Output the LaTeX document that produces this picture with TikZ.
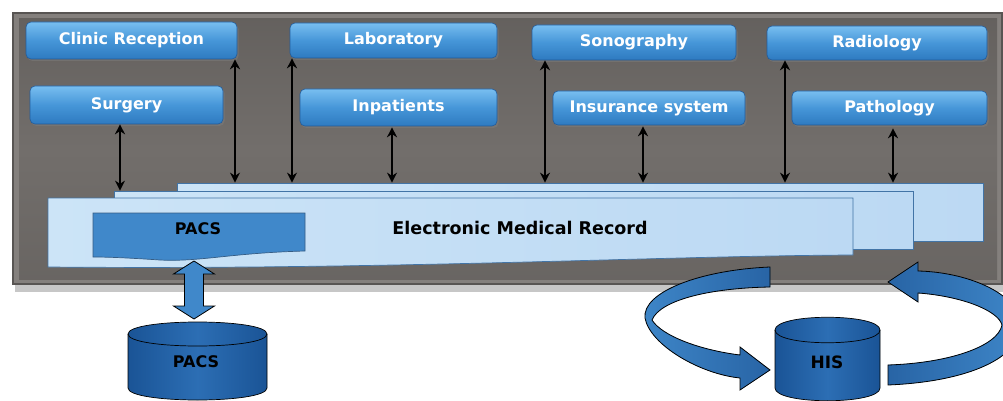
\documentclass[tikz,border=0pt]{standalone}
\usepackage{fontspec}
\setsansfont{DejaVu Sans}
\usetikzlibrary{shadows,arrows.meta}
\definecolor{rim}{RGB}{132,128,125}
\definecolor{rimdark}{RGB}{88,85,83}
\definecolor{panel}{RGB}{114,110,107}
\definecolor{boxtop}{RGB}{120,190,240}
\definecolor{boxmid}{RGB}{70,150,216}
\definecolor{boxbot}{RGB}{46,122,192}
\definecolor{boxedge}{RGB}{34,92,156}
\definecolor{sheet}{RGB}{204,228,247}
\definecolor{sheetedge}{RGB}{66,116,166}
\definecolor{sheetr}{RGB}{188,217,243}
\definecolor{pacsin}{RGB}{64,136,202}
\definecolor{cyldark}{RGB}{26,84,150}
\definecolor{cylmid}{RGB}{44,110,180}
\definecolor{ribbon}{RGB}{62,134,200}
\definecolor{ribbondark}{RGB}{40,100,165}
\begin{document}
\begin{tikzpicture}[x=1pt,y=-1pt,
  bluebox/.style={rounded corners=5pt, draw=boxedge, line width=0.6pt,
    top color=boxtop, bottom color=boxbot, middle color=boxmid,
    text=white, font=\sffamily\bfseries\fontsize{16}{16}\selectfont,
    inner sep=0pt, drop shadow={opacity=0.45, shadow xshift=1.5pt, shadow yshift=-2pt}},
  sheetbox/.style={draw=sheetedge, line width=0.7pt, left color=sheet, right color=sheetr, inner sep=0pt},
  bi/.style={black, line width=2pt, {Stealth[length=10pt,width=10pt]}-{Stealth[length=10pt,width=10pt]}},
  lbl/.style={text=black, font=\sffamily\bfseries\fontsize{16}{16}\selectfont, inner sep=0pt},
  cylbody/.style={draw=black, line width=0.7pt, left color=cyldark, right color=cyldark, middle color=cylmid},
  ribbonstyle/.style={draw=black, line width=0.8pt, fill=ribbon}
]
\useasboundingbox (0,0) rectangle (1003,401);
% panel
\fill[black, opacity=0.22] (15,16) rectangle (1003,292);
\fill[rimdark] (12,12) rectangle (1003,285);
\fill[rim] (14,14) rectangle (1001,283);
\shade[top color=panel!88!black, bottom color=panel!92!black, middle color=panel] (19,19) rectangle (997,279);

% boxes
\node[bluebox, minimum width=211, minimum height=37] (clinic) at (131.5,40.5) {Clinic Reception};
\node[bluebox, minimum width=193, minimum height=38] (surgery) at (126.5,105) {Surgery};
\node[bluebox, minimum width=207, minimum height=35] (lab) at (393.5,40.5) {Laboratory};
\node[bluebox, minimum width=197, minimum height=37] (inpat) at (398.5,107.5) {Inpatients};
\node[bluebox, minimum width=204, minimum height=35] (sono) at (634,42.5) {Sonography};
\node[bluebox, minimum width=192, minimum height=34] (insur) at (649,108) {Insurance system};
\node[bluebox, minimum width=220, minimum height=34] (radio) at (877,43) {Radiology};
\node[bluebox, minimum width=195, minimum height=34] (patho) at (889.5,108) {Pathology};

% EMR sheets
\node[sheetbox, minimum width=806, minimum height=58] (back) at (580,212) {};
\node[sheetbox, minimum width=799, minimum height=58] (mid) at (513.5,220) {};
\path[draw=sheetedge, line width=0.7pt, left color=sheet, right color=sheetr]
  (48,198) -- (853,198) -- (853,255) .. controls (650,256) and (400,270) .. (48,267) -- cycle;
\node[lbl, font=\sffamily\bfseries\fontsize{17.5}{17.5}\selectfont] (emr) at (520,228) {Electronic Medical Record};
\path[draw=sheetedge!80!black, line width=0.7pt, fill=pacsin]
  (93,213) -- (305,213) -- (305,251) .. controls (230,253) and (200,262) .. (160,260)
  .. controls (130,258) and (110,257) .. (93,257) -- cycle;
\node[lbl] (pacsin) at (198,229) {PACS};

% double arrows
\coordinate (a1) at (120,0);
\coordinate (a2) at (235,0);
\coordinate (a3) at (292,0);
\coordinate (a4) at (392,0);
\coordinate (a5) at (545,0);
\coordinate (a6) at (643,0);
\coordinate (a7) at (785,0);
\coordinate (a8) at (893,0);
\draw[bi] (surgery.south -| a1) -- (mid.north -| a1);
\draw[bi] (clinic.south -| a2) -- (back.north -| a2);
\draw[bi] (lab.south -| a3) -- (back.north -| a3);
\draw[bi] ([yshift=-1pt]inpat.south -| a4) -- (back.north -| a4);
\draw[bi] (sono.south -| a5) -- (back.north -| a5);
\draw[bi] ([yshift=-1pt]insur.south -| a6) -- (back.north -| a6);
\draw[bi] (radio.south -| a7) -- (back.north -| a7);
\draw[bi] ([yshift=-3pt]patho.south -| a8) -- (back.north -| a8);

% PACS block arrow
\path[draw=black, line width=0.8pt, fill=pacsin]
  (194,261) -- (214.5,274) -- (203.5,274) -- (203.5,306) -- (214.5,306) -- (194,319)
  -- (173.5,306) -- (184.5,306) -- (184.5,274) -- (173.5,274) -- cycle;

% PACS cylinder
\path[cylbody] (128,334) -- (128,388) .. controls (128,404) and (267,404) .. (267,388)
  -- (267,334) .. controls (267,318) and (128,318) .. (128,334) -- cycle;
\draw[black, line width=0.7pt] (128,334) .. controls (128,350) and (267,350) .. (267,334);
\node[lbl] (pacsdb) at (196,362) {PACS};

% HIS cylinder
\path[cylbody] (775,330) -- (775,388) .. controls (775,405) and (880,405) .. (880,388)
  -- (880,330) .. controls (880,313) and (775,313) .. (775,330) -- cycle;
\draw[black, line width=0.7pt] (775,330) .. controls (775,347) and (880,347) .. (880,330);
\node[lbl, font=\sffamily\bfseries\fontsize{17}{17}\selectfont] (his) at (827,362) {HIS};

% circular arrows
\begin{scope}
\clip (0,0) rectangle (1003,401);
\path[ribbonstyle, left color=ribbon, right color=ribbondark]
  (770,267) .. controls (700,270) and (642,292) .. (645,318)
  .. controls (650,345) and (700,374) .. (740,378) -- (740,390) -- (770,370) -- (740,347) -- (740,355)
  .. controls (700,350) and (662,336) .. (652,320)
  .. controls (660,300) and (710,288) .. (770,287) -- cycle;
\path[ribbonstyle, left color=ribbondark, right color=ribbon]
  (888,365) -- (888,385) .. controls (960,382) and (1018,362) .. (1022,325)
  .. controls (1018,292) and (965,272) .. (918,271) -- (918,262) -- (888,282) -- (918,302) -- (918,293)
  .. controls (960,296) and (998,310) .. (1002,325)
  .. controls (998,346) and (950,363) .. (888,365) -- cycle;
\end{scope}
\end{tikzpicture}
\end{document}
